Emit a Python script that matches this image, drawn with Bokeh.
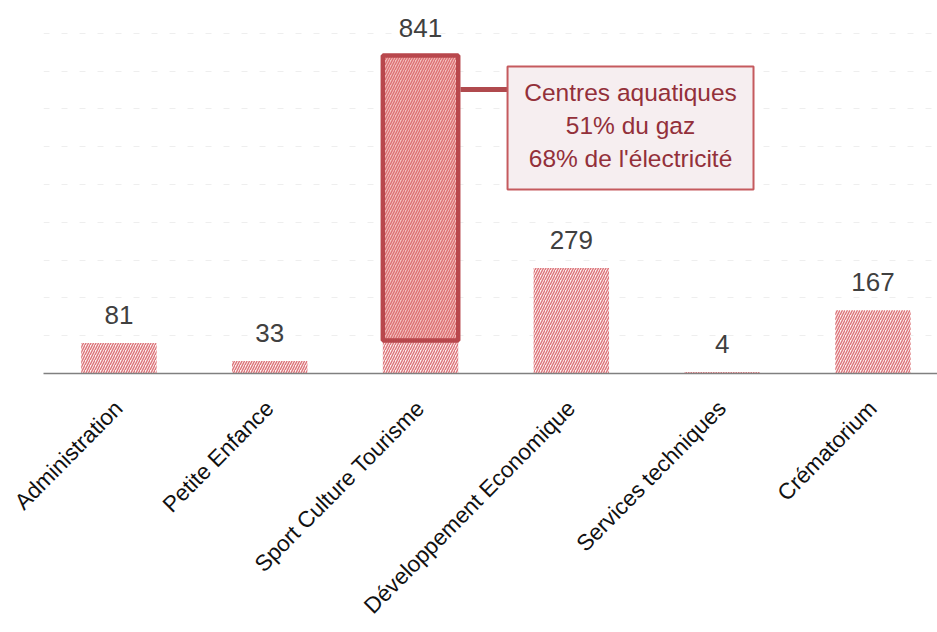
import math
import numpy as np
from bokeh.plotting import figure
from bokeh.models import Range1d, FixedTicker, SingleIntervalTicker, ColumnDataSource
from bokeh.core.properties import value
from bokeh.embed import file_html
from bokeh.resources import INLINE

# ---- data ----
categories = ["Administration", "Petite Enfance", "Sport Culture Tourisme",
              "Développement Economique", "Services techniques", "Crématorium"]
values = [81, 33, 841, 279, 4, 167]

# callout (annotation)
callout_category = "Sport Culture Tourisme"
callout_lines = ["Centres aquatiques", "51% du gaz", "68% de l'électricité"]
highlight_bottom = 87
callout_box = dict(left=3.077, right=4.708, top=812, bottom=487)
callout_line_y = [743, 656, 569]
connector_y = 751

FONT = "Liberation Sans"

x = np.arange(len(categories)) + 0.5
src = ColumnDataSource(dict(x=x, top=values, label=[str(v) for v in values]))

p = figure(width=937, height=632, output_backend="svg", toolbar_location=None,
           x_range=Range1d(0, 5.928), y_range=Range1d(0, 965.6),
           min_border_left=43, min_border_right=0, min_border_top=8,
           min_border_bottom=259)
p.outline_line_color = None
p.background_fill_color = "white"
p.border_fill_color = "white"

# bars
p.vbar(x="x", top="top", bottom=0, width=0.5, source=src,
       fill_color="#fdf1f1", line_color=None,
       hatch_pattern="/", hatch_color="#dc747a", hatch_scale=5, hatch_weight=1.4)

# value labels
p.text(x="x", y="top", text="label", source=src,
       text_align="center", text_baseline="bottom", y_offset=-19,
       text_font=value(FONT), text_font_size="26px", text_color="#404040")

# highlight rectangle on the selected bar
hi = categories.index(callout_category)
p.quad(left=[x[hi] - 0.25], right=[x[hi] + 0.25], top=[values[hi]], bottom=[highlight_bottom],
       fill_color="#e06a68", fill_alpha=0.35, line_color="#b8474c", line_width=4.5)

# connector
p.segment(x0=[x[hi] + 0.25 + 0.015], x1=[callout_box["left"]], y0=[connector_y], y1=[connector_y],
          line_color="#b04a4e", line_width=5)

# callout box
p.quad(left=[callout_box["left"]], right=[callout_box["right"]],
       top=[callout_box["top"]], bottom=[callout_box["bottom"]],
       fill_color="#f6eef0", line_color="#c55a5e", line_width=2)
cx = (callout_box["left"] + callout_box["right"]) / 2
p.text(x=[cx] * len(callout_lines), y=callout_line_y, text=callout_lines,
       text_align="center", text_baseline="middle",
       text_font=value(FONT), text_font_size="24.5px", text_color="#93303a")

# axes
p.yaxis.visible = False
p.ygrid.ticker = SingleIntervalTicker(interval=100)
p.ygrid.grid_line_color = "#eeeeee"
p.ygrid.grid_line_dash = "6 12"
p.ygrid.grid_line_width = 1
p.xgrid.visible = False

ax = p.xaxis[0]
ax.ticker = FixedTicker(ticks=list(x))
ax.major_label_overrides = {float(xi): c for xi, c in zip(x, categories)}
ax.major_label_orientation = 0.79
ax.major_label_text_font = FONT
ax.major_label_text_font_size = "22.5px"
ax.major_label_text_color = "#111111"
ax.major_label_standoff = 25
ax.major_tick_line_color = None
ax.minor_tick_line_color = None
ax.axis_line_color = "#808080"
ax.axis_line_width = 1.5

open("out.html", "w").write(file_html(p, INLINE))
